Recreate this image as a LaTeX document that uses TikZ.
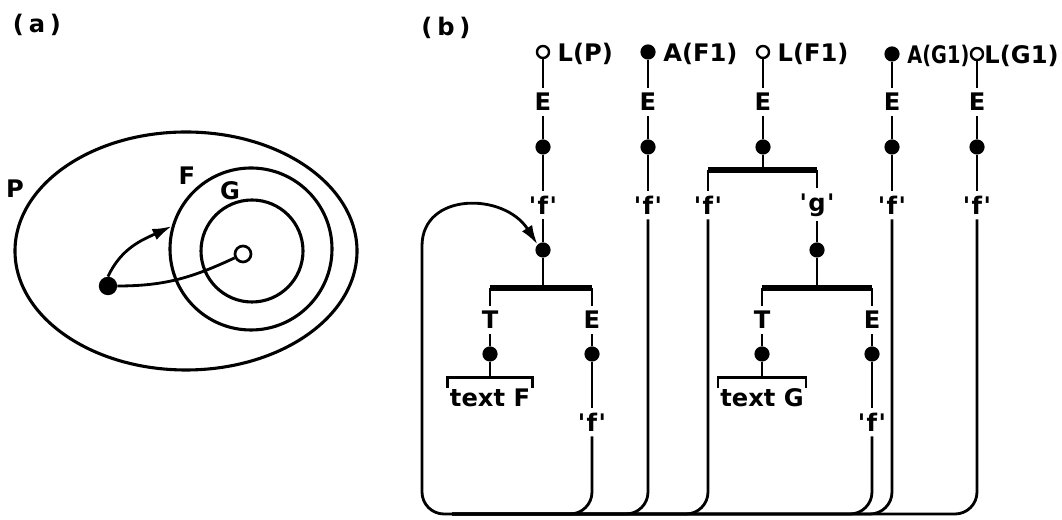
\documentclass[tikz,border=0pt]{standalone}
\usepackage{fontspec}
\usepackage{graphicx}
\setmainfont{DejaVu Sans}
\usetikzlibrary{shapes.geometric, arrows.meta, positioning}

\newcommand{\qt}[1]{\textquotesingle\hspace{0.06em}#1\hspace{0.06em}\textquotesingle}

\begin{document}
\begin{tikzpicture}[
    lbl/.style={font=\fontsize{17.2}{19}\selectfont\bfseries, inner sep=0.12cm},
    ring/.style={circle, draw, line width=2.2pt, inner sep=0},
    dot/.style={circle, fill, inner sep=0, minimum size=0.38cm},
    leaf/.style={circle, draw, fill=white, line width=1.7pt, inner sep=0, minimum size=0.3cm},
    stem/.style={line width=2pt},
    branch/.style={line width=3.8pt},
    arrow/.style={-{Latex[length=0.48cm, width=0.3cm]}, line width=2pt}
]
\fill[white] (0,0) rectangle (26.55,13);
\useasboundingbox (0,0) rectangle (26.55,13);

% (a) scopes as nested regions
\node[lbl] (alab) at (0.925,12.375) {(\hspace{0.2em}a\hspace{0.2em})};
\node[ring, ellipse, minimum width=8.55cm, minimum height=5.95cm] (pell) at (4.65,6.725) {};
\node[ring, minimum size=4.05cm] (fcirc) at (6.275,6.775) {};
\node[ring, minimum size=2.55cm] (gcirc) at (6.3,6.725) {};
\node[lbl] (plab) at (0.375,8.275) {P};
\node[lbl] (flab) at (4.675,8.6) {F};
\node[lbl] (glab) at (5.75,8.225) {G};
\node[leaf, minimum size=0.4cm, line width=1.9pt] (gpt) at (6.075,6.65) {};
\node[dot, minimum size=0.46cm] (ppt) at (2.7,5.85) {};
\draw[stem] (ppt.east) to[out=0, in=205] (gpt);
\draw[arrow] (ppt.north) to[out=65, in=205] (fcirc.164);

% (b) tree
\node[lbl] (blab) at (11.15,12.3) {(\hspace{0.2em}b\hspace{0.2em})};

% column L(P)
\node[leaf] (lp) at (13.575,11.7) {};
\node[lbl, right=0.06cm of lp, yshift=-0.05cm] (lpt) {L(P)};
\node[lbl] (lpe) at (13.575,10.45) {E};
\node[dot] (lpd) at (13.575,9.325) {};
\node[lbl] (lpf) at (13.575,7.875) {\qt{f}};
\node[dot] (pd) at (13.575,6.75) {};
\coordinate (pbl) at (12.25,5.8);
\coordinate (pbr) at (14.8,5.8);
\node[lbl] (pt) at (12.25,5.0) {T};
\node[lbl] (pe) at (14.8,5.0) {E};
\node[dot] (ptd) at (12.25,4.15) {};
\node[dot] (ped) at (14.8,4.15) {};
\coordinate (pbk) at (12.25,3.56);
\node[lbl] (ptx) at (12.25,3.06) {text F};
\node[lbl] (pef) at (14.8,2.45) {\qt{f}};
\draw[stem] (lp) -- (lpe) (lpe) -- (lpd) (lpd) -- (lpf) (lpf) -- (pd);
\draw[stem] (pd) -- (pd |- pbl);
\draw[branch] (pbl) -- (pbr);
\draw[stem] (pbl) -- (pt) (pbr) -- (pe) (pt) -- (ptd) (pe) -- (ped) (ped) -- (pef);
\draw[stem] (ptd) -- (pbk);
\draw[stem] (11.18,3.3) |- (13.32,3.56) -- (13.32,3.3);

% column A(F1)
\node[dot] (af) at (16.2,11.7) {};
\node[lbl, right=0.06cm of af, yshift=-0.05cm] (aft) {A(F1)};
\node[lbl] (afe) at (16.2,10.45) {E};
\node[dot] (afd) at (16.2,9.325) {};
\node[lbl] (aff) at (16.2,7.875) {\qt{f}};
\draw[stem] (af) -- (afe) (afe) -- (afd) (afd) -- (aff);

% column L(F1)
\node[leaf] (lf) at (19.075,11.7) {};
\node[lbl, right=0.06cm of lf, yshift=-0.05cm] (lft) {L(F1)};
\node[lbl] (lfe) at (19.075,10.45) {E};
\node[dot] (lfd) at (19.075,9.325) {};
\coordinate (fbl) at (17.7,8.75);
\coordinate (fbr) at (20.425,8.75);
\node[lbl] (lff) at (17.7,7.875) {\qt{f}};
\node[lbl] (lfg) at (20.425,7.875) {\qt{g}};
\node[dot] (gd) at (20.425,6.75) {};
\coordinate (gbl) at (19.05,5.8);
\coordinate (gbr) at (21.8,5.8);
\node[lbl] (gt) at (19.05,5.0) {T};
\node[lbl] (ge) at (21.8,5.0) {E};
\node[dot] (gtd) at (19.05,4.15) {};
\node[dot] (ged) at (21.8,4.15) {};
\coordinate (gbk) at (19.05,3.56);
\node[lbl] (gtx) at (19.05,3.06) {text G};
\node[lbl] (gef) at (21.8,2.45) {\qt{f}};
\draw[stem] (lf) -- (lfe) (lfe) -- (lfd) (lfd) -- (lfd |- fbl);
\draw[branch] (fbl) -- (fbr);
\draw[stem] (fbl) -- (lff) (fbr) -- (lfg) (lfg) -- (gd) (gd) -- (gd |- gbl);
\draw[branch] (gbl) -- (gbr);
\draw[stem] (gbl) -- (gt) (gbr) -- (ge) (gt) -- (gtd) (ge) -- (ged) (ged) -- (gef);
\draw[stem] (gtd) -- (gbk);
\draw[stem] (17.95,3.3) |- (20.15,3.56) -- (20.15,3.3);

% column A(G1)
\node[dot] (ag) at (22.3,11.65) {};
\node[lbl, right=0.06cm of ag, yshift=-0.05cm] (agt) {\scalebox{0.8}[1]{A(G1)}};
\node[lbl] (age) at (22.3,10.45) {E};
\node[dot] (agd) at (22.3,9.325) {};
\node[lbl] (agf) at (22.3,7.875) {\qt{f}};
\draw[stem] (ag) -- (age) (age) -- (agd) (agd) -- (agf);

% column L(G1)
\node[leaf] (lg) at (24.425,11.65) {};
\node[lbl, right=-0.12cm of lg, yshift=-0.05cm] (lgt) {L(G1)};
\node[lbl] (lge) at (24.425,10.45) {E};
\node[dot] (lgd) at (24.425,9.325) {};
\node[lbl] (lgf) at (24.425,7.875) {\qt{f}};
\draw[stem] (lg) -- (lge) (lge) -- (lgd) (lgd) -- (lgf);

% references looping back to the root
\coordinate (busw) at (10.55,0.15);
\coordinate (bush) at (11.3,0.15);
\draw[arrow, rounded corners=0.55cm] (lgf.south) |- (busw) -- (10.55,6.3) .. controls (10.55,8.2) and (12.6,8.2) .. (pd.north west);
\draw[stem, rounded corners=0.55cm] (pef.south) |- (bush);
\draw[stem, rounded corners=0.55cm] (aff.south) |- (bush);
\draw[stem, rounded corners=0.55cm] (lff.south) |- (bush);
\draw[stem, rounded corners=0.55cm] (gef.south) |- (bush);
\draw[stem, rounded corners=0.55cm] (agf.south) |- (bush);
\end{tikzpicture}
\end{document}
